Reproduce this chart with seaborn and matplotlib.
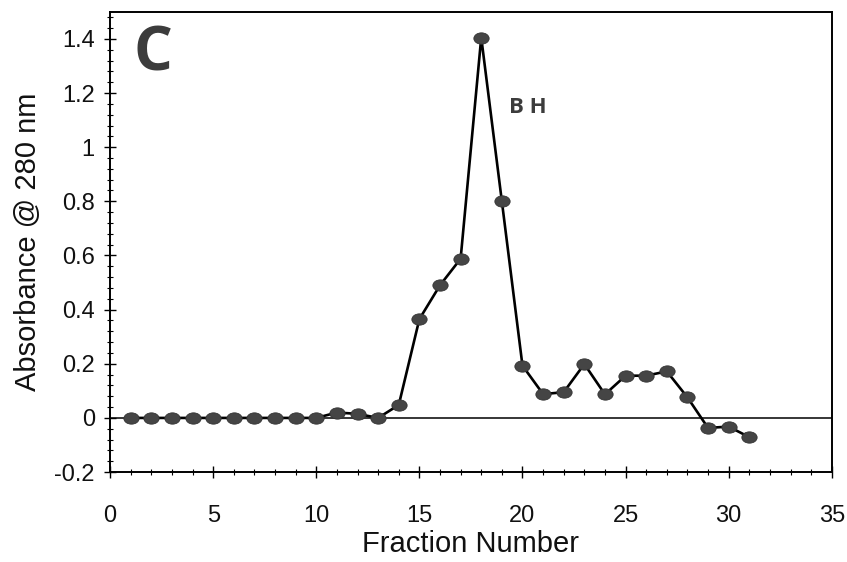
import numpy as np
import pandas as pd
import matplotlib
matplotlib.use("Agg")
import matplotlib.pyplot as plt
import seaborn as sns
from matplotlib.path import Path
from matplotlib.transforms import Affine2D
from matplotlib.ticker import MultipleLocator, FuncFormatter

# fraction numbers and absorbance at 280 nm
fraction = [1, 2, 3, 4, 5, 6, 7, 8, 9, 10, 11, 12, 13, 14, 15, 16, 17, 18, 19, 20,
            21, 22, 23, 24, 25, 26, 27, 28, 29, 30, 31]
absorbance = [0.0, 0.0, 0.0, 0.0, 0.0, 0.0, 0.0, 0.0, 0.0, 0.0, 0.02, 0.015, 0.0, 0.048,
              0.365, 0.49, 0.588, 1.405, 0.80, 0.193, 0.088, 0.095, 0.199, 0.087,
              0.156, 0.156, 0.172, 0.076, -0.037, -0.032, -0.071]

panel_label = "C"
peak_label = "B H"

df = pd.DataFrame({"Fraction Number": fraction, "Absorbance": absorbance})

sns.set_theme(style="ticks")
plt.rcParams["font.family"] = ["Liberation Sans", "DejaVu Sans"]
plt.rcParams["axes.unicode_minus"] = False

fig, ax = plt.subplots(figsize=(8.47, 5.62), dpi=100)
fig.subplots_adjust(left=0.130, right=0.982, top=0.979, bottom=0.160)

# flattened ellipse marker like the original
ellipse = Path.unit_circle().transformed(Affine2D().scale(1.35, 1.0))

ax.axhline(0, color="black", lw=1.1, zorder=1)
sns.lineplot(data=df, x="Fraction Number", y="Absorbance", ax=ax,
             color="black", lw=1.9, marker=ellipse, markersize=11,
             markerfacecolor="#454545", markeredgecolor="#333333",
             markeredgewidth=0.6, zorder=3)

ax.set_xlim(0, 35)
ax.set_ylim(-0.2, 1.5)
ax.xaxis.set_major_locator(MultipleLocator(5))
ax.xaxis.set_minor_locator(MultipleLocator(1))
ax.yaxis.set_major_locator(MultipleLocator(0.2))
ax.yaxis.set_minor_locator(MultipleLocator(0.04))
ax.yaxis.set_major_formatter(FuncFormatter(lambda v, p: f"{v:g}" if abs(v) > 1e-9 else "0"))

ax.tick_params(which="major", direction="inout", length=8, width=1.0, color="black",
               labelsize=17, labelcolor="#111111")
ax.tick_params(which="minor", direction="inout", length=4, width=0.8, color="black")
ax.tick_params(axis="x", which="major", pad=20)
ax.tick_params(axis="y", which="major", pad=7)

for side in ["left", "right", "top", "bottom"]:
    ax.spines[side].set_visible(True)
    ax.spines[side].set_color("black")
    ax.spines[side].set_linewidth(1.4)

ax.set_xlabel("Fraction Number", fontsize=21, color="#111111", labelpad=2)
ax.set_ylabel("Absorbance @ 280 nm", fontsize=21, color="#111111", labelpad=9)

ax.text(0.060, 0.907, panel_label, transform=ax.transAxes, fontsize=44,
        fontweight="bold", color="#3c3c3c", ha="center", va="center",
        family=["Open Sans", "DejaVu Sans"])
ax.text(0.553, 0.792, peak_label, transform=ax.transAxes, fontsize=16,
        fontweight="bold", color="#3c3c3c", ha="left", va="center",
        family=["Open Sans", "DejaVu Sans"])

fig.savefig("out.png", dpi=100)
